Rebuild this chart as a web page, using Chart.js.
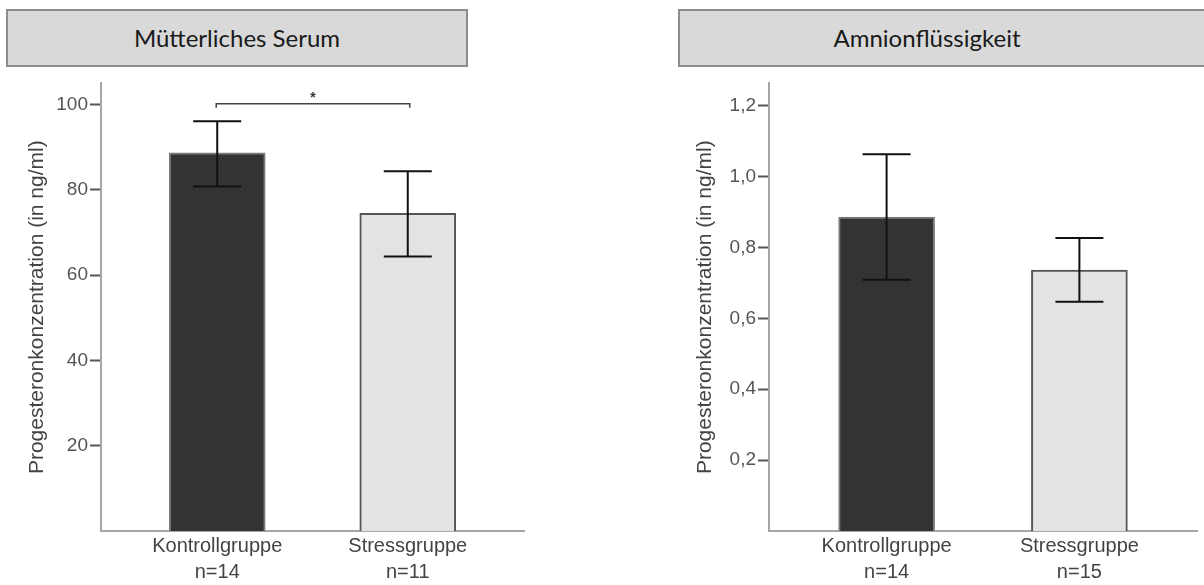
<!DOCTYPE html>
<html lang="de">
<head>
<meta charset="utf-8">
<title>Progesteronkonzentration</title>
<script src="https://cdn.jsdelivr.net/npm/chart.js@4.4.1/dist/chart.umd.min.js"></script>
<style>
  body { margin: 0; background: #fff; width: 1204px; height: 585px; overflow: hidden; position: relative; }
  .kopf {
    position: absolute; top: 9px; height: 58px; box-sizing: border-box;
    background: #d9d9d9; border: 2px solid #8c8c8c;
    font-family: Lato, "Open Sans", sans-serif; font-size: 24px; color: #1a1a1a;
    line-height: 54px; text-align: center; white-space: nowrap;
  }
  #kopfLinks { left: 6px; width: 462px; }
  #kopfRechts { left: 678px; width: 540px; text-align: left; }
  #kopfRechts span { display: inline-block; width: 494px; text-align: center; }
  canvas { position: absolute; top: 70px; }
  #serum { left: 0; }
  #fruchtwasser { left: 668px; }
</style>
</head>
<body>
<div class="kopf" id="kopfLinks">Mütterliches Serum</div>
<div class="kopf" id="kopfRechts"><span>Amnionflüssigkeit</span></div>
<canvas id="serum" width="560" height="515"></canvas>
<canvas id="fruchtwasser" width="536" height="515"></canvas>
<script>
// Gruppen und Lage auf der x-Achse
const gruppen = ["Kontrollgruppe", "Stressgruppe"];
const xPos = [1, 2];

// Mütterliches Serum (ng/ml): Mittelwert und Fehlerbalken
const serumN = [14, 11];
const serumMittel = [88.7, 74.5];
const serumUnten = [80.8, 64.4];
const serumOben = [96.1, 84.4];
const serumTicks = [20, 40, 60, 80, 100];
const serumMax = 105;
const serumKlammer = 100.2; // Signifikanzklammer *

// Amnionflüssigkeit (ng/ml)
const fruchtN = [14, 15];
const fruchtMittel = [0.886, 0.736];
const fruchtUnten = [0.709, 0.647];
const fruchtOben = [1.063, 0.827];
const fruchtTicks = [0.2, 0.4, 0.6, 0.8, 1.0, 1.2];
const fruchtMax = 1.263;

const schrift = "'Liberation Sans', Arial, sans-serif";

function zeichne(id, mittel, unten, oben, n, ticks, max, format, klammer, rechts) {
  // Fehlerbalken und Klammer nach den Balken zeichnen
  const fehler = {
    id: "fehler",
    afterDatasetsDraw(chart) {
      const { ctx, scales: { x, y } } = chart;
      ctx.save();
      ctx.strokeStyle = "#111";
      ctx.lineWidth = 2;
      unten.forEach((u, i) => {
        const px = x.getPixelForValue(xPos[i]);
        const y0 = y.getPixelForValue(u);
        const y1 = y.getPixelForValue(oben[i]);
        ctx.beginPath();
        ctx.moveTo(px, y0); ctx.lineTo(px, y1);
        ctx.moveTo(px - 24, y0); ctx.lineTo(px + 24, y0);
        ctx.moveTo(px - 24, y1); ctx.lineTo(px + 24, y1);
        ctx.stroke();
      });
      if (klammer != null) {
        const xa = x.getPixelForValue(xPos[0]) - 1;
        const xb = x.getPixelForValue(xPos[1]) + 2;
        const yk = y.getPixelForValue(klammer);
        ctx.strokeStyle = "#444";
        ctx.lineWidth = 1.5;
        ctx.beginPath();
        ctx.moveTo(xa, yk + 4); ctx.lineTo(xa, yk); ctx.lineTo(xb, yk); ctx.lineTo(xb, yk + 4);
        ctx.stroke();
        ctx.fillStyle = "#333";
        ctx.font = "bold 14px " + schrift;
        ctx.textAlign = "center";
        ctx.textBaseline = "alphabetic";
        ctx.fillText("*", (xa + xb) / 2, yk - 2);
      }
      ctx.restore();
    }
  };

  return new Chart(document.getElementById(id), {
    type: "bar",
    data: {
      datasets: [{
        data: mittel.map((m, i) => ({ x: xPos[i], y: m })),
        backgroundColor: ["#333333", "#e3e3e3"],
        borderColor: ["#7a7a7a", "#555555"],
        borderWidth: 2,
        borderSkipped: "bottom",
        barThickness: 96
      }]
    },
    options: {
      responsive: false,
      animation: false,
      layout: { padding: { left: 20, top: 12, right: rechts, bottom: 0 } },
      plugins: { legend: { display: false }, tooltip: { enabled: false } },
      scales: {
        x: {
          type: "linear",
          offset: false,
          min: 0.39,
          max: 2.61,
          afterBuildTicks: s => { s.ticks = xPos.map(v => ({ value: v })); },
          afterFit: s => { s.height = 54; },
          border: { color: "#a6a6a6", width: 2 },
          grid: { display: false, offset: false },
          ticks: {
            color: "#444",
            padding: -6,
            font: { family: schrift, size: 20, lineHeight: 1.3 },
            callback: (v, i) => [gruppen[i], "n=" + n[i]]
          }
        },
        y: {
          min: 0,
          max: max,
          afterBuildTicks: s => { s.ticks = ticks.map(v => ({ value: v })); },
          afterFit: s => { s.width = 81; },
          border: { color: "#a6a6a6", width: 2 },
          grid: { drawOnChartArea: false, drawTicks: true, tickLength: 11, tickColor: "#555", tickWidth: 2 },
          ticks: { color: "#555", padding: 2, font: { family: schrift, size: 19 }, callback: format },
          title: {
            display: true,
            text: "Progesteronkonzentration (in ng/ml)",
            color: "#444",
            font: { family: schrift, size: 21 },
            padding: { top: 5, bottom: 0 }
          }
        }
      }
    },
    plugins: [fehler]
  });
}

zeichne("serum", serumMittel, serumUnten, serumOben, serumN, serumTicks, serumMax,
  v => String(v), serumKlammer, 36);
zeichne("fruchtwasser", fruchtMittel, fruchtUnten, fruchtOben, fruchtN, fruchtTicks, fruchtMax,
  v => v.toFixed(1).replace(".", ","), null, 7);
</script>
</body>
</html>
